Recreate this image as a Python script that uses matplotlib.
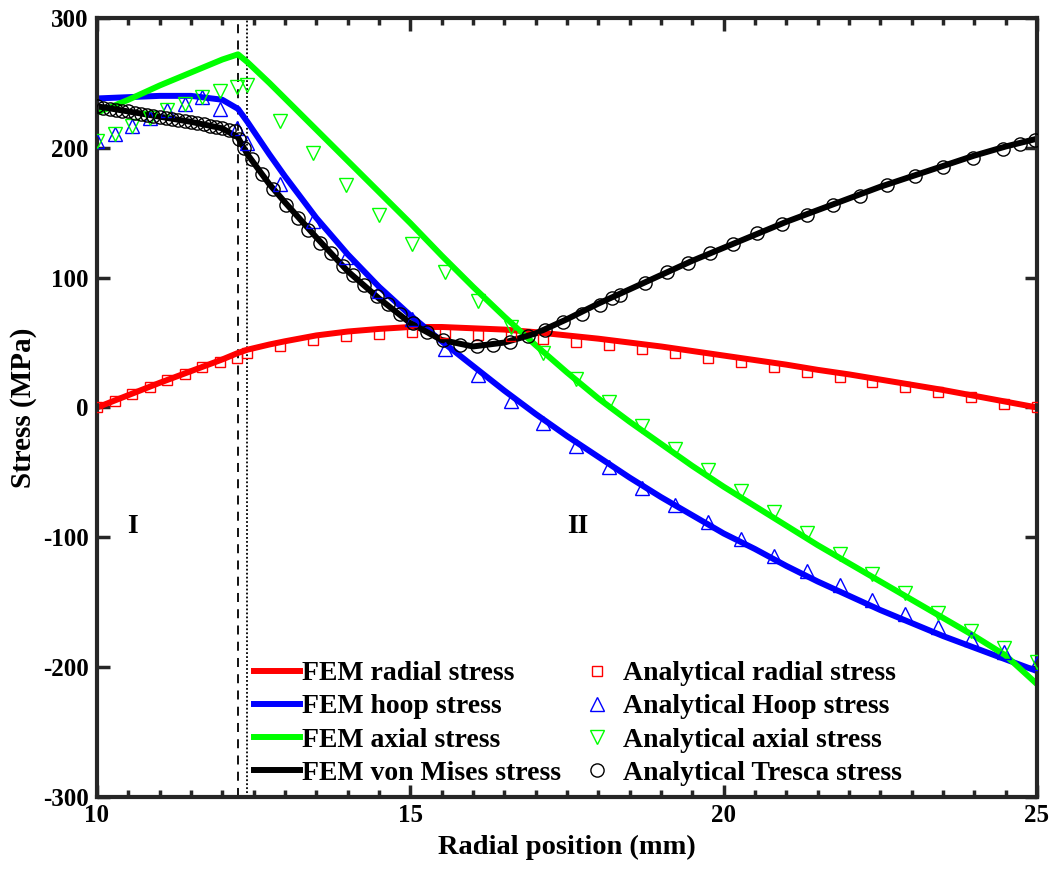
import numpy as np
import matplotlib
matplotlib.use("Agg")
import matplotlib.pyplot as plt
from matplotlib.ticker import MultipleLocator

plt.rcParams['font.family'] = ['Liberation Serif', 'DejaVu Serif']
plt.rcParams['font.weight'] = 'bold'
plt.rcParams['axes.unicode_minus'] = False

# ---------------- FEM data ----------------
fem_x = [10, 10.5, 11, 11.5, 12, 12.25, 12.4, 12.75, 13, 13.5, 14, 14.5, 15, 15.5, 16, 16.5,
         17, 17.5, 18, 18.5, 19, 19.5, 20, 20.5, 21, 21.5, 22, 22.5, 23, 23.5, 24, 24.5, 25]
fem_radial = [0, 9.5, 19, 28, 37, 42, 44.5, 48.5, 51, 55.5, 58.5, 60.5, 62, 62, 61, 60,
              58, 55.5, 53, 50, 47, 43.5, 40, 36.5, 33, 29, 25.5, 21.5, 17.5, 13.5, 9, 4.5, 0]
fem_hoop = [238, 239, 240, 240, 237, 230, 220, 195, 178, 146, 118, 93, 71, 51, 32, 13,
            -5, -22, -38, -54, -69, -83, -97, -109, -122, -134, -145, -156, -166, -176, -185, -194, -203]
fem_axial = [227, 237, 248, 258, 268, 272, 266, 250, 238, 214, 190, 166, 142, 117, 93, 70,
             48, 27, 7, -11, -28, -45, -61, -76, -91, -106, -120, -134, -148, -162, -176, -191, -213]
fem_mises = [232, 228, 224, 220, 215, 208, 195, 172, 158, 131, 105, 84, 65, 52, 47, 50,
             57, 68, 80, 91, 102, 113, 123, 133, 143, 152, 161, 170, 178, 186, 194, 201, 207]

# ---------------- Analytical data ----------------
ana_x = [10, 10.28, 10.56, 10.84, 11.12, 11.4, 11.68, 11.96, 12.24,
         12.4, 12.925, 13.45, 13.975, 14.5, 15.025, 15.55, 16.075, 16.6, 17.125, 17.65,
         18.175, 18.7, 19.225, 19.75, 20.275, 20.8, 21.325, 21.85, 22.375, 22.9, 23.425,
         23.95, 24.475, 25]
ana_radial = [0, 5, 10.5, 16, 21.5, 26, 31, 35, 38,
              41.6, 47, 51.6, 54.7, 56.5, 58, 57, 56, 54.7, 53, 50.3,
              47.8, 45.4, 42, 38.3, 35, 31, 27, 23.4, 19.5, 15.7, 11.8,
              8, 3, 0]
ana_hoop = [205, 211, 217, 223, 229, 234, 239, 230, 215,
            204, 172, 144, 116, 90, 68, 45, 25, 5, -12, -30,
            -46, -62, -75, -88, -101, -114, -126, -137, -148, -159, -169,
            -178, -188, -197]
ana_axial = [205, 211, 217, 223, 229, 234, 239, 244, 247,
             248, 221, 196, 171, 148, 126, 104, 82, 62, 42, 22,
             4.6, -13.9, -31.9, -48.5, -64, -80.6, -97, -112.8, -128, -143, -158,
             -172, -185, -196]

tresca_x = [10.0, 10.1, 10.2, 10.3, 10.4, 10.5, 10.6, 10.7, 10.8, 10.9, 11.0, 11.1, 11.2,
            11.3, 11.4, 11.5, 11.6, 11.7, 11.8, 11.9, 12.0, 12.1, 12.2, 12.26,
            12.35, 12.47, 12.63, 12.81, 13.02, 13.21, 13.37, 13.56, 13.73, 13.93, 14.08,
            14.26, 14.47, 14.64, 14.83, 15.04, 15.27, 15.52, 15.79, 16.06, 16.32, 16.59,
            16.88, 17.15, 17.44, 17.74, 18.03, 18.22, 18.35, 18.74, 19.10, 19.43, 19.78,
            20.15, 20.53, 20.93, 21.33, 21.74, 22.17, 22.61, 23.05, 23.50, 23.98, 24.46,
            24.73, 24.97]
tresca_y = [232, 231, 230, 229.5, 228.5, 228, 227, 226, 225.5, 224.5, 224, 223, 222,
            221.5, 220.5, 220, 219, 218, 217, 216, 215, 214, 213, 207,
            200, 191, 180, 168, 156, 146, 137, 127, 119, 109, 102,
            94, 86, 80, 72, 65, 58, 52, 48.5, 47, 48, 50.5,
            55, 60, 66, 72, 79, 84, 87, 96, 104, 111, 119,
            126, 134, 141, 148, 156, 163, 171, 178, 185, 192, 199,
            203, 206]

region_lines = [12.25, 12.4]
region_labels = ["I", "II"]
region_label_x = [10.57, 17.67]
region_label_y = -92

xticks = [10, 15, 20, 25]
yticks = [-300, -200, -100, 0, 100, 200, 300]

# ---------------- Plot ----------------
fig = plt.figure(figsize=(10.52, 8.72), dpi=100)
ax = fig.add_axes([0.0922, 0.086, 0.8935, 0.8934])

red, blue, green, black = '#ff0000', '#0000ff', '#00ff00', '#000000'
lw = 4.3
ax.plot(fem_x, fem_radial, color=red, lw=lw, label='FEM radial stress', zorder=2)
ax.plot(fem_x, fem_hoop, color=blue, lw=lw, label='FEM hoop stress', zorder=2)
ax.plot(fem_x, fem_axial, color=green, lw=lw, label='FEM axial stress', zorder=2)
ax.plot(fem_x, fem_mises, color=black, lw=lw, label='FEM von Mises stress', zorder=2)

ax.plot(ana_x, ana_radial, ls='none', marker='s', ms=7, mfc='none', mec=red, mew=1.0,
        label='Analytical radial stress', zorder=3)
ax.plot(ana_x, ana_hoop, ls='none', marker='^', ms=10, mfc='none', mec=blue, mew=1.0,
        label='Analytical Hoop stress', zorder=3)
ax.plot(ana_x, ana_axial, ls='none', marker='v', ms=10, mfc='none', mec=green, mew=1.0,
        label='Analytical axial stress', zorder=3)
ax.plot(tresca_x, tresca_y, ls='none', marker='o', ms=9.5, mfc='none', mec=black, mew=1.0,
        label='Analytical Tresca stress', zorder=3)

ax.axvline(region_lines[0], color='black', ls=(0, (5, 4)), lw=1.3, zorder=1)
ax.axvline(region_lines[1], color='black', ls=(0, (1, 1.2)), lw=1.3, zorder=1)

for lab, lx in zip(region_labels, region_label_x):
    ax.text(lx, region_label_y, lab, fontsize=20, fontweight='bold', ha='center', va='center')

ax.set_xlim(10, 25)
ax.set_ylim(-300, 300)
ax.set_xticks(xticks)
ax.set_yticks(yticks)
ax.xaxis.set_minor_locator(MultipleLocator(0.5))
ax.tick_params(which='both', direction='in', top=True, right=True, width=2.5, color='#262626',
               labelsize=18)
ax.tick_params(which='major', length=9)
ax.tick_params(which='minor', length=5)
ax.tick_params(axis='y', pad=6)
ax.tick_params(axis='x', pad=5)
for s in ax.spines.values():
    s.set_linewidth(3)
    s.set_color('#262626')

ax.set_xlabel('Radial position (mm)', fontsize=20.5, fontweight='bold', labelpad=6)
ax.set_ylabel('Stress (MPa)', fontsize=21, fontweight='bold', labelpad=4)

leg = ax.legend(ncol=2, frameon=False, loc='lower left', bbox_to_anchor=(0.155, 0.0),
                fontsize=20, handlelength=1.65, handletextpad=0.1, columnspacing=0.45,
                labelspacing=0.28, borderaxespad=0.0)

fig.savefig('out.png', dpi=100)
